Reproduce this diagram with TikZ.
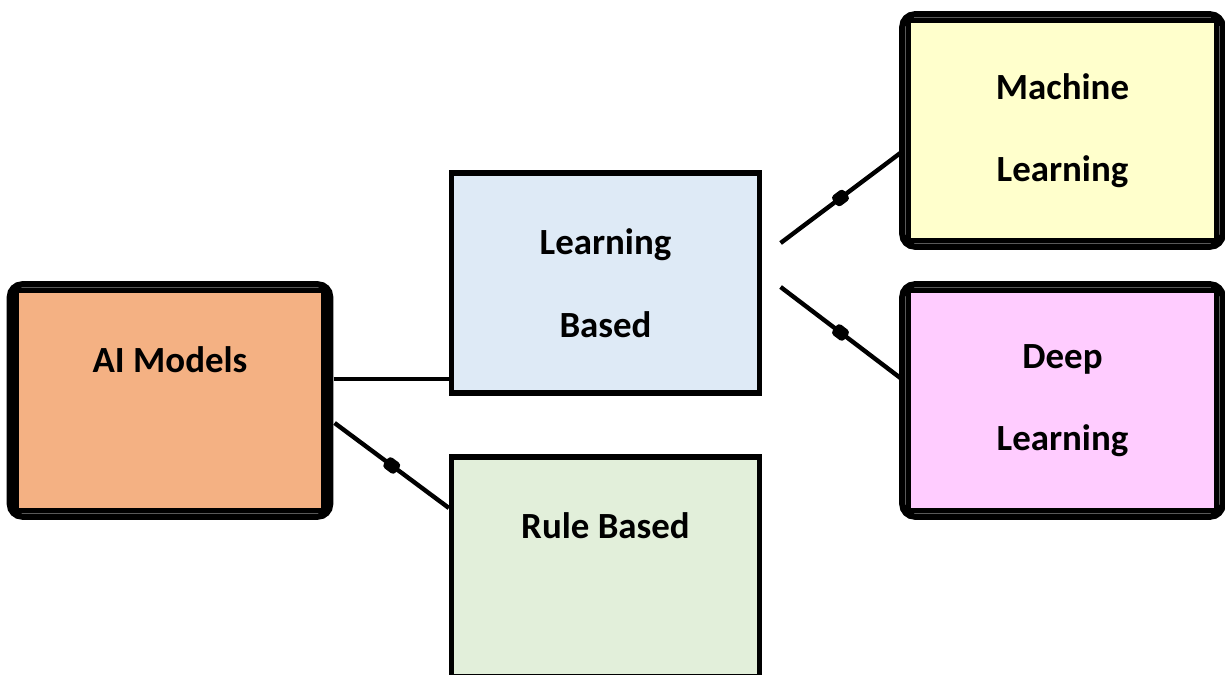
\documentclass[tikz,border=0pt]{standalone}
\usepackage{fontspec}
\setmainfont{Carlito}
\definecolor{aiorange}{HTML}{F4B183}
\definecolor{learnblue}{HTML}{DEEAF6}
\definecolor{rulegreen}{HTML}{E2EFDA}
\definecolor{mlyellow}{HTML}{FFFFCC}
\definecolor{dlpink}{HTML}{FFCCFF}
\begin{document}
\begin{tikzpicture}
[x=0.02cm,y=-0.02cm,
  boxdecorate/.style={shape=rectangle,draw,line width=3pt,minimum width=6.16cm,minimum height=4.4cm,inner sep=0pt,align=center,font=\fontsize{21}{47}\selectfont\bfseries},%
  framedecorate/.style={draw,line width=3.6pt,rounded corners=7pt},%
  linedecorate/.style={-,line width=2.5pt},%
  markdecorate/.style={shape=rectangle,draw,fill=black,line width=1.5pt,rounded corners=1.5pt,minimum width=7pt,minimum height=6pt,inner sep=0pt,sloped}]
\useasboundingbox (0,0) rectangle (1225,675);
%% boxes
\foreach \nodename/\x/\y/\fillcolor/\boxtext in {
  %% root
  ai/170/400.5/aiorange/{AI Models\\\mbox{}},
  %% middle column
  lb/605.5/283/learnblue/{Learning\\Based},
  rb/605.5/567/rulegreen/{Rule Based\\\mbox{}},
  %% right column
  ml/1062.5/130.5/mlyellow/{Machine\\Learning},
  dl/1062.5/400.5/dlpink/{Deep\\Learning}} {
  \node (\nodename) at (\x,\y) [boxdecorate,fill=\fillcolor] {\boxtext};
}
%% rounded outer frames
\foreach \nodename in {ai,ml,dl} {
  \draw[framedecorate] ([shift={(-3.5,-3.5)}]\nodename.north west) rectangle ([shift={(3.5,3.5)}]\nodename.south east);
}
%% lines
\draw[linedecorate] ([shift={(7,-21.5)}]ai.east) -- ([shift={(0,96)}]lb.west);
\path
\foreach \startnode/\sx/\sy/\endnode/\ex/\ey in {
  ai/8/22.5/rb/0/-59,
  lb/18.5/-40/ml/-5.5/22.5,
  lb/18.5/4/dl/-5.5/-22.5} {
  ([shift={(\sx,\sy)}]\startnode.east) edge[linedecorate] node[markdecorate] {} ([shift={(\ex,\ey)}]\endnode.west)
};
\end{tikzpicture}
\end{document}
